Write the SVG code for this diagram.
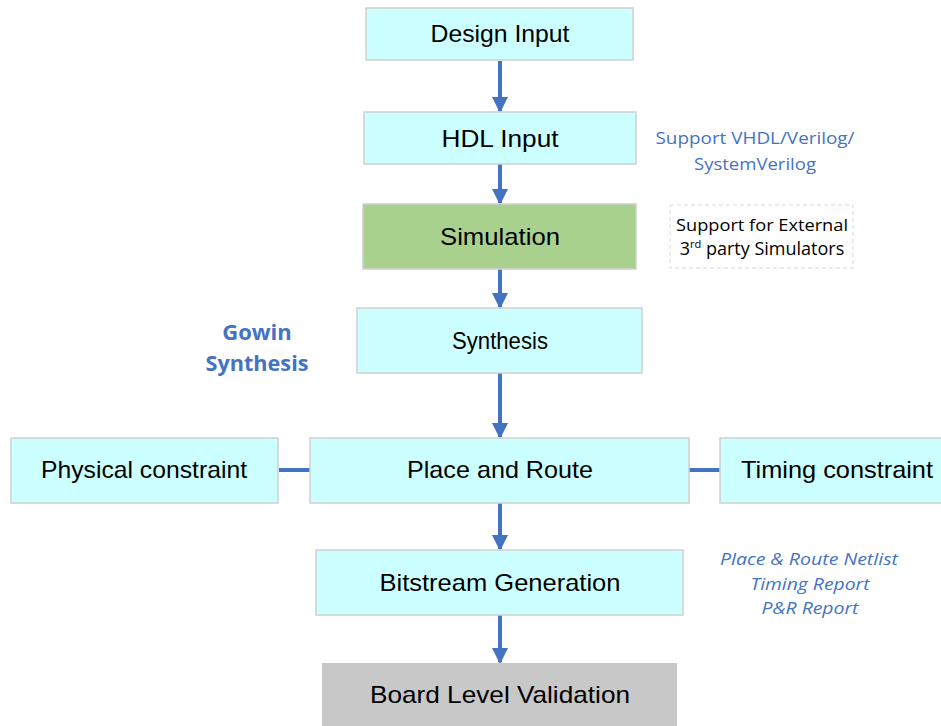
<svg xmlns="http://www.w3.org/2000/svg" width="941" height="726" viewBox="0 0 941 726">
<defs>
<marker id="ah" markerWidth="4" markerHeight="4" refX="3.5" refY="2" orient="auto" markerUnits="strokeWidth" viewBox="0 0 4 4">
<path d="M0,0 L4,2 L0,4 Z" fill="#4472c4"/>
</marker>
</defs>
<style>
.box{fill:#ccffff;stroke:#d0d0d0;stroke-width:1.5}
.t{font-family:"Liberation Sans",Arial,sans-serif;font-size:24px;fill:#000;text-anchor:middle}
.c{stroke:#4472c4;stroke-width:4;fill:none}
.note{font-family:"Open Sans","Liberation Sans",sans-serif;font-size:16px;fill:#4472c4;text-anchor:middle}
.blk{font-family:"Open Sans","Liberation Sans",sans-serif;font-size:16px;fill:#000;text-anchor:middle}
.it{font-family:"Open Sans","Liberation Sans",sans-serif;font-size:16px;fill:#4472c4;text-anchor:middle;font-style:italic}
.gw{font-family:"Open Sans","Liberation Sans",sans-serif;font-size:22px;fill:#4472c4;text-anchor:middle;font-weight:bold}
.sup{font-size:11px}
</style>
<rect width="941" height="726" fill="#fff"/>
<g id="connectors">
<line class="c" x1="500" y1="61" x2="500" y2="111" marker-end="url(#ah)"/>
<line class="c" x1="500" y1="164" x2="500" y2="203" marker-end="url(#ah)"/>
<line class="c" x1="500" y1="269" x2="500" y2="307" marker-end="url(#ah)"/>
<line class="c" x1="500" y1="373" x2="500" y2="437" marker-end="url(#ah)"/>
<line class="c" x1="500" y1="503" x2="500" y2="549" marker-end="url(#ah)"/>
<line class="c" x1="500" y1="615" x2="500" y2="662" marker-end="url(#ah)"/>
<line class="c" x1="279" y1="470" x2="310" y2="470"/>
<line class="c" x1="689" y1="470" x2="720" y2="470"/>
</g>
<g id="design-input">
<rect class="box" x="366" y="8" width="267" height="52"/>
<text class="t" x="500" y="42" textLength="139" lengthAdjust="spacingAndGlyphs">Design Input</text>
</g>
<g id="hdl-input">
<rect class="box" x="364" y="112" width="272" height="52"/>
<text class="t" x="500" y="147" textLength="117" lengthAdjust="spacingAndGlyphs">HDL Input</text>
</g>
<g id="simulation">
<rect x="363" y="204" width="273" height="65" fill="#a9d18e" stroke="#d0d0d0" stroke-width="1.5"/>
<text class="t" x="500" y="245" textLength="120" lengthAdjust="spacingAndGlyphs">Simulation</text>
</g>
<g id="synthesis">
<rect class="box" x="357" y="308" width="285" height="65"/>
<text class="t" x="500" y="349" textLength="96" lengthAdjust="spacingAndGlyphs">Synthesis</text>
</g>
<g id="physical-constraint">
<rect class="box" x="11" y="438" width="267" height="65"/>
<text class="t" x="144" y="478" textLength="206" lengthAdjust="spacingAndGlyphs">Physical constraint</text>
</g>
<g id="place-and-route">
<rect class="box" x="310" y="438" width="379" height="65"/>
<text class="t" x="500" y="478" textLength="186" lengthAdjust="spacingAndGlyphs">Place and Route</text>
</g>
<g id="timing-constraint">
<rect class="box" x="720" y="438" width="225" height="65"/>
<text class="t" x="837" y="478" textLength="192" lengthAdjust="spacingAndGlyphs">Timing constraint</text>
</g>
<g id="bitstream-generation">
<rect class="box" x="316" y="550" width="367" height="65"/>
<text class="t" x="500" y="591" textLength="241" lengthAdjust="spacingAndGlyphs">Bitstream Generation</text>
</g>
<g id="board-level-validation">
<rect x="322" y="663" width="355" height="70" fill="#c8c8c8"/>
<text class="t" x="500" y="703" textLength="260" lengthAdjust="spacingAndGlyphs">Board Level Validation</text>
</g>
<g id="hdl-note">
<text class="note" x="755" y="144" textLength="199" lengthAdjust="spacingAndGlyphs">Support VHDL/Verilog/</text>
<text class="note" x="755" y="170" textLength="122" lengthAdjust="spacingAndGlyphs">SystemVerilog</text>
</g>
<g id="sim-note">
<rect x="670" y="205" width="183" height="63" fill="none" stroke="#d8d8d8" stroke-width="1" stroke-dasharray="4,3"/>
<text class="blk" x="762" y="231" textLength="172" lengthAdjust="spacingAndGlyphs">Support for External</text>
<text class="blk" x="762" y="255" style="font-size:18px">3<tspan class="sup" dy="-7">rd</tspan><tspan dy="7"> party Simulators</tspan></text>
</g>
<g id="gowin-note">
<text class="gw" x="257" y="340">Gowin</text>
<text class="gw" x="257" y="371" textLength="103" lengthAdjust="spacingAndGlyphs">Synthesis</text>
</g>
<g id="pnr-note">
<text class="it" x="809" y="565" textLength="178" lengthAdjust="spacingAndGlyphs">Place &amp; Route Netlist</text>
<text class="it" x="810" y="590" textLength="119" lengthAdjust="spacingAndGlyphs">Timing Report</text>
<text class="it" x="810" y="614" textLength="97" lengthAdjust="spacingAndGlyphs">P&amp;R Report</text>
</g>
</svg>
